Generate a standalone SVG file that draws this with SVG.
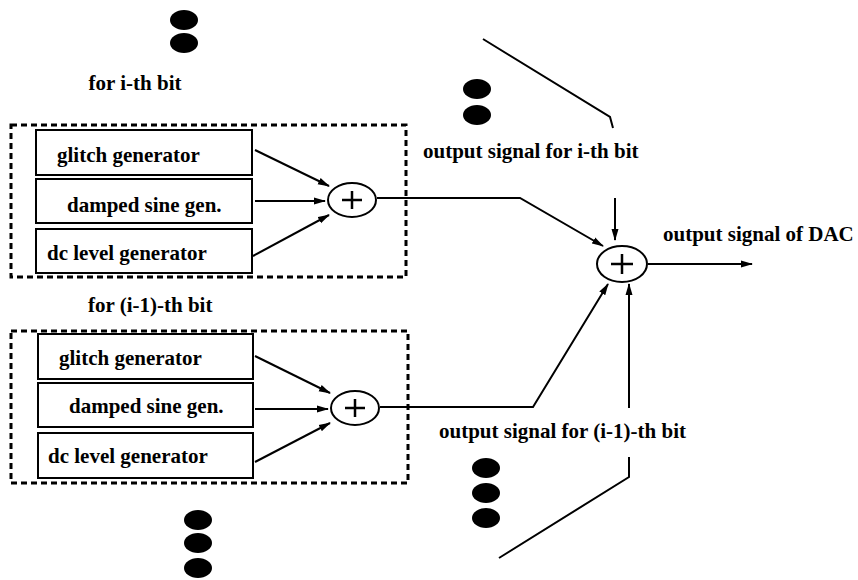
<svg xmlns="http://www.w3.org/2000/svg" width="858" height="580" viewBox="0 0 858 580">
<style>
text{font-family:"Liberation Serif","Times New Roman",serif;font-weight:bold;font-size:21px;fill:#000}
.blk{fill:#fff;stroke:#000;stroke-width:2}
.dash{fill:none;stroke:#000;stroke-width:3;stroke-dasharray:6 4}
.sum{fill:#fff;stroke:#000;stroke-width:2}
.plus{stroke:#000;stroke-width:2.5;fill:none}
.ln{fill:none;stroke:#000;stroke-width:2}
.dot{fill:#000}
</style>
<defs>
<marker id="ah" viewBox="0 0 12 8" refX="11" refY="4" markerWidth="12" markerHeight="8" markerUnits="userSpaceOnUse" orient="auto">
<path d="M0,0.5 L12,4 L0,7.5 Z" fill="#000"/>
</marker>
</defs>
<rect width="858" height="580" fill="#fff"/>

<g id="dots-top">
<ellipse class="dot" cx="184" cy="20" rx="14" ry="10"/>
<ellipse class="dot" cx="184" cy="43" rx="14" ry="10"/>
</g>
<g id="dots-mid">
<ellipse class="dot" cx="477" cy="89" rx="14" ry="10"/>
<ellipse class="dot" cx="477" cy="115" rx="14" ry="10"/>
</g>
<g id="dots-bottom-left">
<ellipse class="dot" cx="198" cy="520" rx="14" ry="10"/>
<ellipse class="dot" cx="198" cy="543" rx="14" ry="10"/>
<ellipse class="dot" cx="198" cy="568" rx="14" ry="10"/>
</g>
<g id="dots-bottom-mid">
<ellipse class="dot" cx="486" cy="468" rx="14" ry="10"/>
<ellipse class="dot" cx="486" cy="493" rx="14" ry="10"/>
<ellipse class="dot" cx="486" cy="518" rx="14" ry="10"/>
</g>

<g id="label-ith"><text x="135" y="90" text-anchor="middle">for i-th bit</text></g>
<g id="label-i1th"><text x="88" y="312">for (i-1)-th bit</text></g>

<g id="group-i">
<rect class="dash" x="11" y="125" width="395" height="152"/>
</g>
<g id="glitch-i"><rect class="blk" x="36" y="130" width="216" height="45"/><text x="57" y="162">glitch generator</text></g>
<g id="sine-i"><rect class="blk" x="36" y="179" width="216" height="44"/><text x="67" y="212">damped sine gen.</text></g>
<g id="dc-i"><rect class="blk" x="36" y="229" width="216" height="44"/><text x="47" y="260">dc level generator</text></g>
<g id="sum-i"><ellipse class="sum" cx="352" cy="200" rx="24" ry="17"/><path class="plus" d="M342,200 H362 M352,191 V209"/></g>

<g id="group-i1">
<rect class="dash" x="11" y="331" width="397" height="152"/>
</g>
<g id="glitch-i1"><rect class="blk" x="38" y="334" width="215" height="45"/><text x="59" y="365">glitch generator</text></g>
<g id="sine-i1"><rect class="blk" x="38" y="383" width="215" height="44"/><text x="69" y="413">damped sine gen.</text></g>
<g id="dc-i1"><rect class="blk" x="38" y="433" width="215" height="45"/><text x="48" y="463">dc level generator</text></g>
<g id="sum-i1"><ellipse class="sum" cx="355" cy="408" rx="24" ry="17"/><path class="plus" d="M345,408 H365 M355,399 V417"/></g>

<g id="sum-dac"><ellipse class="sum" cx="622" cy="264" rx="25" ry="18"/><path class="plus" d="M611,264 H633 M622,254 V274"/></g>

<g id="label-out-i"><text x="423" y="158">output signal for i-th bit</text></g>
<g id="label-out-dac"><text x="663" y="241">output signal of DAC</text></g>
<g id="label-out-i1"><text x="439" y="438">output signal for (i-1)-th bit</text></g>

<g id="connectors">
<path class="ln" d="M255,150 L329,186" marker-end="url(#ah)"/>
<path class="ln" d="M255,201 L325,201" marker-end="url(#ah)"/>
<path class="ln" d="M253,256 L329,215" marker-end="url(#ah)"/>
<path class="ln" d="M255,356 L330,393" marker-end="url(#ah)"/>
<path class="ln" d="M255,409 L328,409" marker-end="url(#ah)"/>
<path class="ln" d="M255,462 L330,423" marker-end="url(#ah)"/>
<path class="ln" d="M377,198 H520 L603,246" stroke-width="1.5" marker-end="url(#ah)"/>
<path class="ln" d="M380,407 H533 L608,284" stroke-width="2.5" marker-end="url(#ah)"/>
<path class="ln" d="M615,198 V240" marker-end="url(#ah)"/>
<path class="ln" d="M629,408 V284" marker-end="url(#ah)"/>
<path class="ln" d="M648,264 H752" marker-end="url(#ah)"/>
<path class="ln" d="M483,39 L610,117 L613,128"/>
<path class="ln" d="M629,457 V477 L499,558"/>
</g>
</svg>
